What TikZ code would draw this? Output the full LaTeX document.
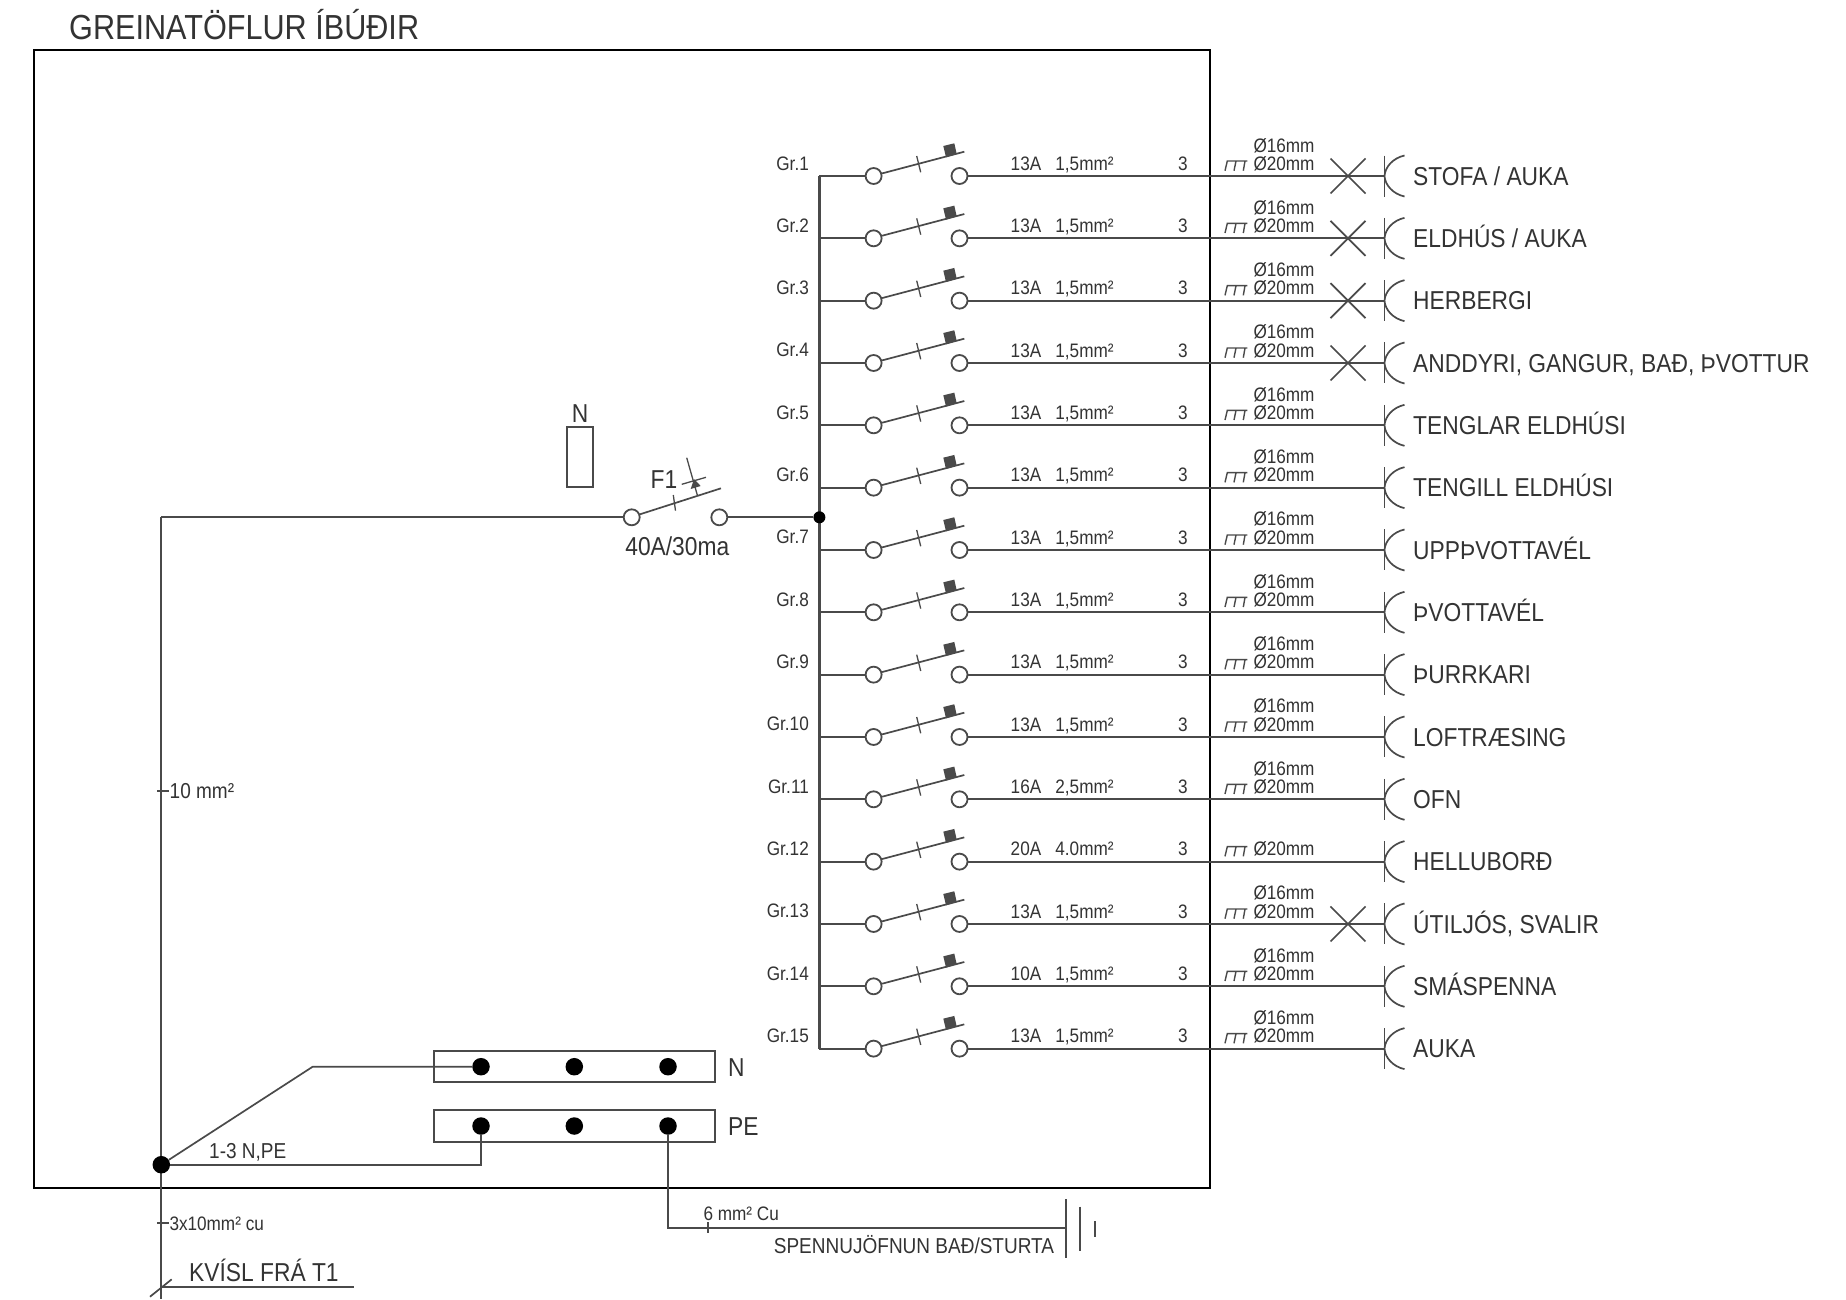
\documentclass[tikz,border=0pt]{standalone}
\usepackage{fontspec}
\setmainfont{Liberation Sans}[FakeStretch=0.88]
\definecolor{wire}{HTML}{4A4A4A}
\definecolor{ink}{HTML}{333333}
\tikzset{
  wirel/.style={draw=wire,line width=2.2pt},
  thinl/.style={draw=wire,line width=1.7pt},
  framel/.style={draw=black,line width=2pt},
  termc/.style={circle,draw=wire,line width=1.8pt,fill=white,minimum size=16pt,inner sep=0pt},
  blackdot/.style={circle,fill=black,minimum size=#1,inner sep=0pt},
  txs/.style={inner sep=0pt,text=ink,font=\fontsize{19.5}{21}\selectfont,text height=14pt,text depth=0pt},
  txm/.style={inner sep=0pt,text=ink,font=\fontsize{21.6}{23}\selectfont,text height=15.5pt,text depth=0pt},
  txl/.style={inner sep=0pt,text=ink,font=\fontsize{25.9}{28}\selectfont,text height=18.5pt,text depth=0pt},
}
\begin{document}
\begin{tikzpicture}[x=1pt,y=-1pt]
\useasboundingbox (0,0) rectangle (1846,1299);
\fill[white] (0,0) rectangle (1846,1299);
\node[txl,anchor=west,font=\fontsize{34.8}{37}\selectfont,text height=25pt] (title) at (69,27) {GREINATÖFLUR ÍBÚÐIR};
\draw[framel] (34,50) rectangle (1209.5,1188);

% groups
\foreach \i/\amp/\sz/\dest/\hasx/\hassix in {
 1/13A/{1,5mm²}/{STOFA / AUKA}/1/1,
 2/13A/{1,5mm²}/{ELDHÚS / AUKA}/1/1,
 3/13A/{1,5mm²}/{HERBERGI}/1/1,
 4/13A/{1,5mm²}/{ANDDYRI, GANGUR, BAÐ, ÞVOTTUR}/1/1,
 5/13A/{1,5mm²}/{TENGLAR ELDHÚSI}/0/1,
 6/13A/{1,5mm²}/{TENGILL ELDHÚSI}/0/1,
 7/13A/{1,5mm²}/{UPPÞVOTTAVÉL}/0/1,
 8/13A/{1,5mm²}/{ÞVOTTAVÉL}/0/1,
 9/13A/{1,5mm²}/{ÞURRKARI}/0/1,
 10/13A/{1,5mm²}/{LOFTRÆSING}/0/1,
 11/16A/{2,5mm²}/{OFN}/0/1,
 12/20A/{4.0mm²}/{HELLUBORÐ}/0/0,
 13/13A/{1,5mm²}/{ÚTILJÓS, SVALIR}/1/1,
 14/10A/{1,5mm²}/{SMÁSPENNA}/0/1,
 15/13A/{1,5mm²}/{AUKA}/0/1}{
  \pgfmathsetmacro\y{176+62.33*(\i-1)}
  \coordinate (bus\i) at (819.4,\y);
  \coordinate (end\i) at (1384.5,\y);
  \node[termc] (L\i) at (873.6,\y) {};
  \node[termc] (R\i) at (959.5,\y) {};
  \draw[wirel] (bus\i) -- (L\i);
  \draw[wirel] (R\i) -- (end\i);
  % lever
  \coordinate (tip\i) at (964.3,\y-24.3);
  \draw[thinl] (L\i.17) -- (tip\i);
  \draw[thinl,line width=1.3pt] (916.7,\y-20) -- (920.7,\y-3.7);
  \fill[wire] (943.3,\y-30) -- (954.3,\y-32.7) -- (956.7,\y-22) -- (946,\y-18.7) -- cycle;
  % texts
  \node[txs,anchor=east] (gr\i) at (809,\y-13) {Gr.\i};
  \node[txs] (amp\i) at (1026,\y-12.8) {\amp};
  \node[txs] (sz\i) at (1084.5,\y-12.8) {\sz};
  \node[txs] (n\i) at (1183,\y-12.8) {3};
  \node[txs] (d\i) at (1284,\y-12.8) {Ø20mm};
  \ifnum\hassix=1 \node[txs] (e\i) at (1284,\y-31) {Ø16mm};\fi
  % conduit mark
  \draw[draw=wire,line width=1.4pt] (1225,\y-5.3) -- (1227.3,\y-15) -- (1247.3,\y-15) (1234,\y-5.3) -- (1236,\y-15) (1243.3,\y-5.3) -- (1245,\y-15);
  % cross
  \ifnum\hasx=1
    \draw[thinl] (1330.5,\y-17.5) -- (1365.5,\y+17.5) (1330.5,\y+17.5) -- (1365.5,\y-17.5);
  \fi
  % outlet
  \draw[thinl] (1384.5,\y-20.5) -- (1384.5,\y+20.5);
  \draw[thinl] (1404.5,\y-20.5) .. controls (1393,\y-18) and (1385,\y-9) .. (end\i) .. controls (1385,\y+9) and (1393,\y+18) .. (1404.5,\y+20.5);
  \node[txl,anchor=west] (dest\i) at (1413,\y) {\dest};
}
\draw[wirel] (bus1) -- (bus15);

% RCD
\coordinate (jtop) at (161.3,517.3);
\coordinate (jbot) at (161.3,1299);
\node[termc] (FL) at (631.7,517.3) {};
\node[termc] (FR) at (719.3,517.3) {};
\node[blackdot=12pt] (J) at (819.4,517.3) {};
\draw[wirel] (jtop) -- (FL);
\draw[wirel] (FR) -- (J);
\draw[wirel] (jtop) -- (jbot);
\coordinate (ftip) at (721,488.3);
\draw[thinl] (FL.20) -- (ftip);
\draw[thinl,line width=1.3pt] (673.3,495) -- (675.5,510.7);
\draw[thinl,line width=1.3pt] (697.3,495) -- (686.7,457.7);
\draw[thinl,line width=1.3pt] (681.7,484.3) -- (706,477.3);
\fill[wire] (694,479) -- (700.7,486) -- (690.7,489) -- cycle;
\node[txl] (f1) at (664,479) {F1};
\node[txl] (fa) at (677.3,546) {40A/30ma};
\draw[thinl] (567.3,427.3) rectangle (592.7,486.7);
\node[txl] (nn) at (580,413) {N};

% busbars
\draw[thinl] (434.3,1050.7) rectangle (714.8,1082.3);
\draw[thinl] (434.3,1110.3) rectangle (714.8,1141.7);
\node[blackdot=17.5pt] (n1) at (481,1066.7) {};
\node[blackdot=17.5pt] (n2) at (574.3,1066.7) {};
\node[blackdot=17.5pt] (n3) at (668,1066.7) {};
\node[blackdot=17.5pt] (p1) at (481,1126) {};
\node[blackdot=17.5pt] (p2) at (574.3,1126) {};
\node[blackdot=17.5pt] (p3) at (668,1126) {};
\node[txl,anchor=west] (nlab) at (728,1067) {N};
\node[txl,anchor=west] (plab) at (728,1126.5) {PE};
\node[blackdot=17.5pt] (M) at (161.3,1164.7) {};
\coordinate (knee) at (312.7,1066.7);
\coordinate (corner) at (481,1164.7);
\draw[thinl] (M) -- (knee) -- (n1);
\draw[wirel] (M) -- (corner) -- (p1);
\node[txm,anchor=west] (npe) at (209,1150.7) {1-3 N,PE};

% feed labels
\draw[thinl] (157.3,791) -- (169,791);
\node[txm,anchor=west] (ten) at (169.5,791) {10 mm²};
\draw[thinl] (157.3,1223) -- (169,1223);
\node[txs,anchor=west] (feed) at (169.3,1223) {3x10mm² cu};
\node[txl,anchor=west] (kv) at (189,1272) {KVÍSL FRÁ T1};
\coordinate (kl) at (161.3,1287.3);
\coordinate (kr) at (354,1287.3);
\draw[thinl] (kl) -- (kr);
\draw[thinl] (150,1296.7) -- (171.7,1279.3);

% equipotential
\coordinate (gk) at (668,1228.3);
\coordinate (gb) at (1065.7,1228.3);
\draw[wirel] (p3) -- (gk) -- (gb);
\draw[thinl] (707.7,1222) -- (707.7,1232.5);
\draw[thinl] (1065.7,1199.3) -- (1065.7,1258.3);
\draw[thinl] (1080.3,1206.7) -- (1080.3,1251);
\draw[thinl] (1095,1221) -- (1095,1236.7);
\node[txs,anchor=west] (six) at (703.3,1213.3) {6 mm² Cu};
\node[txm,anchor=east] (sp) at (1054.3,1245.7) {SPENNUJÖFNUN BAÐ/STURTA};
\end{tikzpicture}
\end{document}
